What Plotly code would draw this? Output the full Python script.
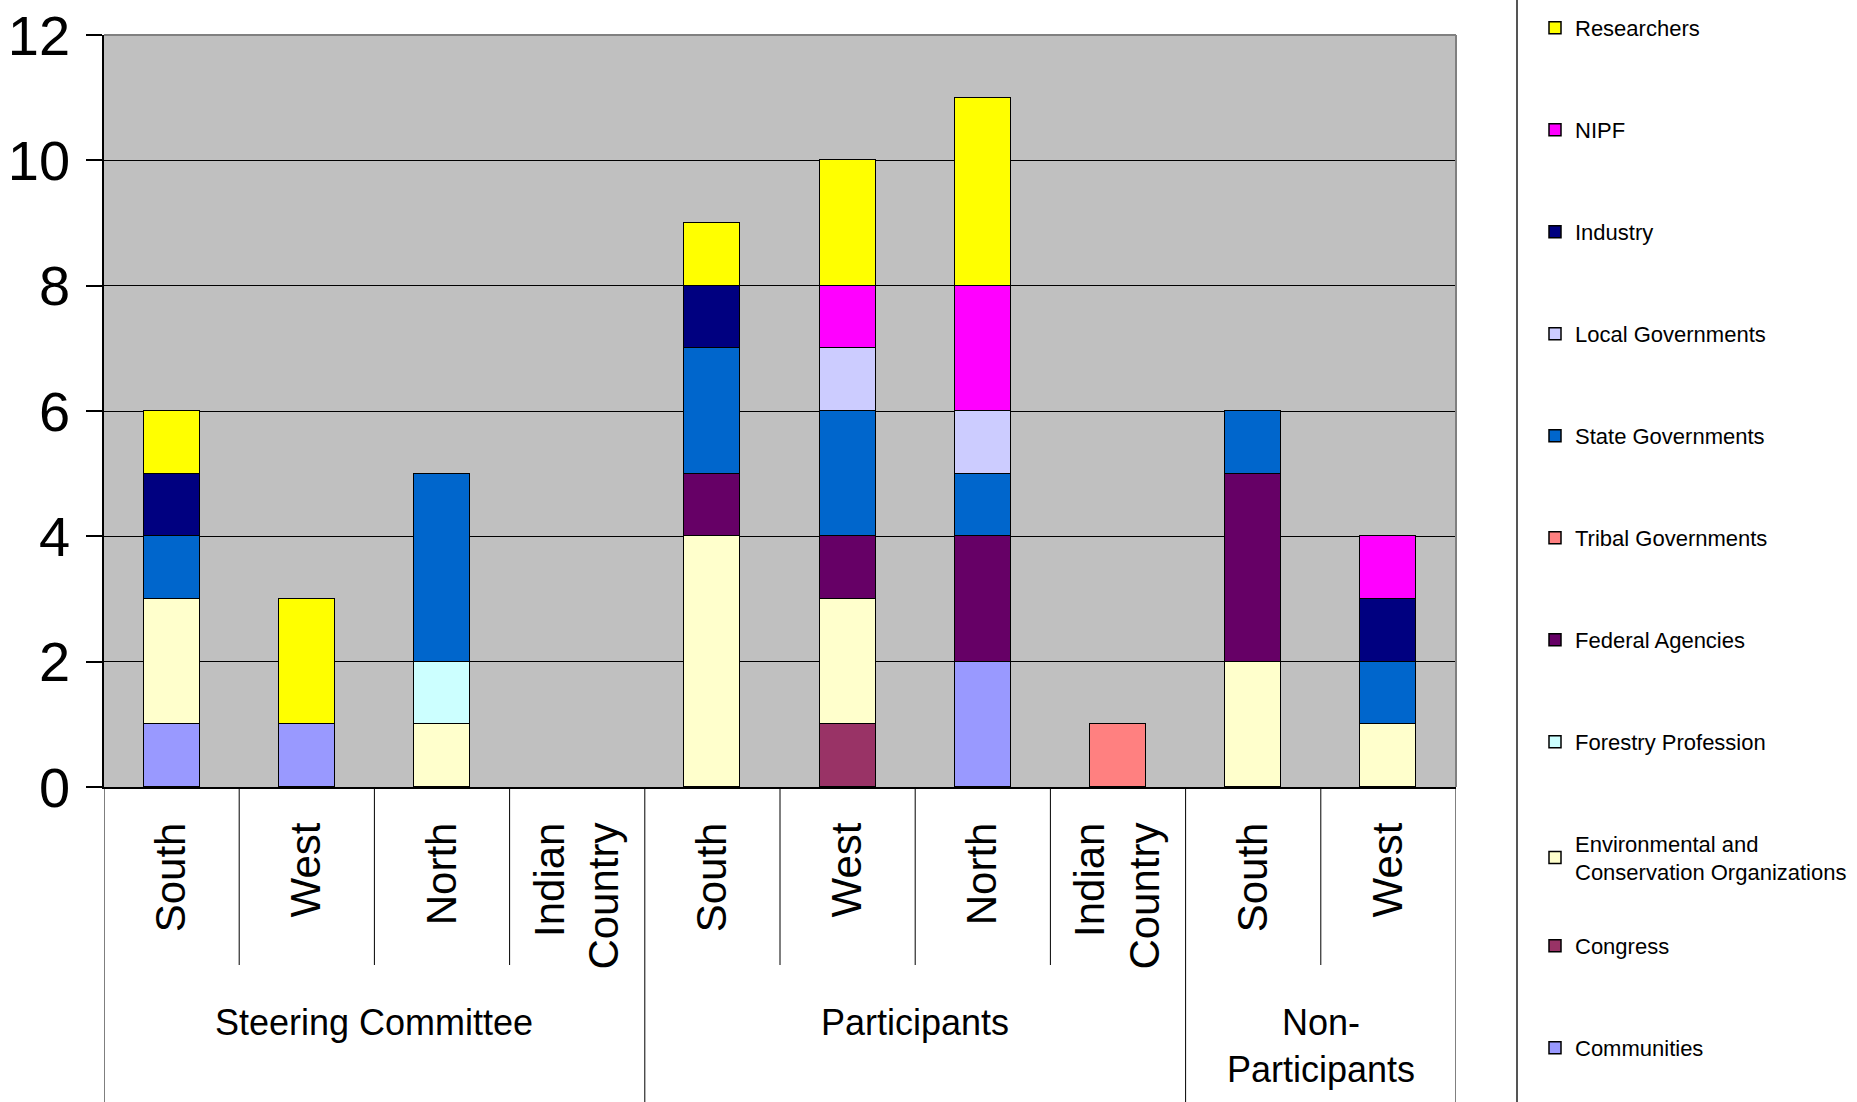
import plotly.graph_objects as go

# ---------------- data ----------------
regions = ["South", "West", "North", "Indian<br>Country",
           "South", "West", "North", "Indian<br>Country",
           "South", "West"]
group_names = ["Steering Committee", "Participants", "Non-<br>Participants"]
group_sizes = [4, 4, 2]

# stacked from bottom to top
communities = [1, 1, 0, 0, 0, 0, 2, 0, 0, 0]
congress = [0, 0, 0, 0, 0, 1, 0, 0, 0, 0]
environmental = [2, 0, 1, 0, 4, 2, 0, 0, 2, 1]
forestry = [0, 0, 1, 0, 0, 0, 0, 0, 0, 0]
federal = [0, 0, 0, 0, 1, 1, 2, 0, 3, 0]
tribal = [0, 0, 0, 0, 0, 0, 0, 1, 0, 0]
state_gov = [1, 0, 3, 0, 2, 2, 1, 0, 1, 1]
local_gov = [0, 0, 0, 0, 0, 1, 1, 0, 0, 0]
industry = [1, 0, 0, 0, 1, 0, 0, 0, 0, 1]
nipf = [0, 0, 0, 0, 0, 1, 2, 0, 0, 1]
researchers = [1, 2, 0, 0, 1, 2, 3, 0, 0, 0]

series_names = ["Communities", "Congress",
                "Environmental and<br>Conservation Organizations",
                "Forestry Profession", "Federal Agencies", "Tribal Governments",
                "State Governments", "Local Governments", "Industry", "NIPF",
                "Researchers"]
series_values = [communities, congress, environmental, forestry, federal, tribal,
                 state_gov, local_gov, industry, nipf, researchers]
series_colors = ["#9999FF", "#993366", "#FFFFCC", "#CCFFFF", "#660066", "#FF8080",
                 "#0066CC", "#CCCCFF", "#000080", "#FF00FF", "#FFFF00"]

# ---------------- geometry ----------------
W, H = 1857, 1102
L, R, T, B = 104, 1456, 35, 787
plot_w, plot_h = R - L, B - T


def px_x(p):
    return (p - L) / plot_w


def px_y(p):
    return (B - p) / plot_h


FONT = "Liberation Sans, Arial, sans-serif"

xs = list(range(len(regions)))
fig = go.Figure()
n = len(series_names)
legend_layouts = {}
for i, (name, vals, col) in enumerate(zip(series_names, series_values, series_colors)):
    rank = n - 1 - i  # position in legend from top
    lname = "legend" if rank == 0 else f"legend{rank + 1}"
    fig.add_trace(go.Bar(
        x=xs, y=[v if v else None for v in vals], name=name,
        marker=dict(color=col, line=dict(color="black", width=1.5)),
        width=0.414, legend=lname, showlegend=True,
    ))
    yc = 28 + 102 * rank
    if "<br>" in name:
        yc += 14
    legend_layouts[lname] = dict(
        x=px_x(1535), y=px_y(yc), xanchor="left", yanchor="middle",
        bgcolor="rgba(0,0,0,0)", borderwidth=0, visible=True,
        font=dict(family=FONT, size=22, color="black"),
    )

shapes = []
# separators below the axis
bounds = [i - 0.5 for i in range(len(regions) + 1)]
group_bounds = [-0.5]
acc = -0.5
for s in group_sizes:
    acc += s
    group_bounds.append(acc)
for b in bounds:
    long_line = any(abs(b - g) < 1e-9 for g in group_bounds)
    shapes.append(dict(type="line", xref="x", yref="paper", x0=b, x1=b,
                       y0=0, y1=px_y(H + 2 if long_line else 965),
                       line=dict(color="black", width=1)))
# grey plot border top and right
shapes.append(dict(type="line", xref="paper", yref="paper", x0=0, x1=1, y0=1, y1=1,
                   line=dict(color="#808080", width=2)))
shapes.append(dict(type="line", xref="paper", yref="paper", x0=1, x1=1, y0=0, y1=1,
                   line=dict(color="#808080", width=2)))
# legend frame line
shapes.append(dict(type="line", xref="paper", yref="paper", x0=px_x(1517), x1=px_x(1517),
                   y0=px_y(H + 5), y1=px_y(-5), line=dict(color="#555555", width=2)))

annotations = []
start = 0
for gname, s in zip(group_names, group_sizes):
    center = start + (s - 1) / 2
    annotations.append(dict(x=center, xref="x", y=px_y(1000), yref="paper",
                            text=gname, showarrow=False, xanchor="center", yanchor="top",
                            font=dict(family=FONT, size=36, color="black")))
    start += s

fig.update_layout(
    width=W, height=H,
    margin=dict(l=L, r=W - R, t=T, b=H - B, pad=0, autoexpand=False),
    paper_bgcolor="white", plot_bgcolor="#C0C0C0",
    barmode="stack", bargap=0, showlegend=True,
    font=dict(family=FONT, color="black"),
    xaxis=dict(range=[-0.5, len(regions) - 0.5], tickmode="array", tickvals=xs,
               ticktext=regions, tickangle=-90, showgrid=False, zeroline=False,
               showline=True, linecolor="black", linewidth=1.5, ticks="",
               ticklabelstandoff=17, automargin=False,
               tickfont=dict(family=FONT, size=42, color="black")),
    yaxis=dict(range=[0, 12], dtick=2, tick0=0, showgrid=True, gridcolor="black",
               gridwidth=1, zeroline=False, showline=True, linecolor="black",
               linewidth=1.5, ticks="outside", ticklen=16, tickcolor="black",
               tickwidth=1.5, ticklabelstandoff=5, automargin=False,
               tickfont=dict(family=FONT, size=56, color="black")),
    shapes=shapes, annotations=annotations,
    **legend_layouts,
)

fig.write_html("out.html", config={"displayModeBar": False},
               post_script="document.body.style.margin='0px';document.body.style.overflow='hidden';")
